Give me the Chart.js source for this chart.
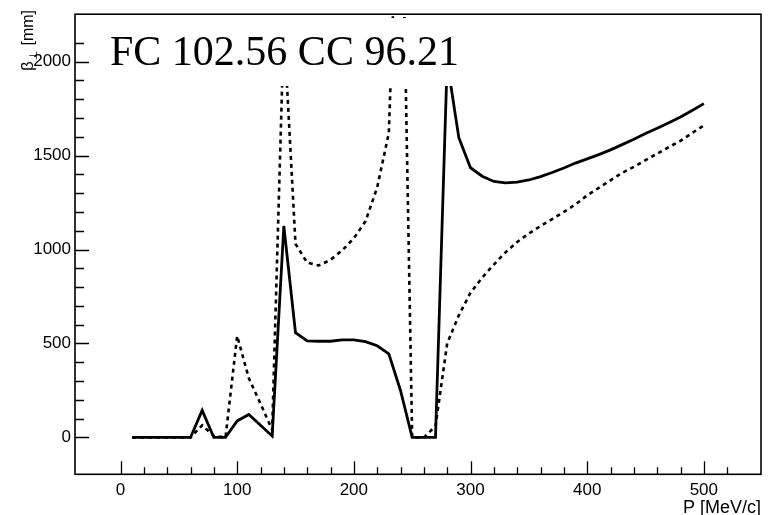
<!DOCTYPE html>
<html>
<head>
<meta charset="utf-8">
<script src="https://cdn.jsdelivr.net/npm/chart.js@4.4.1/dist/chart.umd.min.js"></script>
<style>
  html, body { margin: 0; padding: 0; background: #fff; }
</style>
</head>
<body>
<canvas id="betaChart" width="769" height="515"></canvas>
<script>
  // momentum scan, MeV/c
  const momentum = [10, 20, 30, 40, 50, 60, 70, 80, 90, 100,
    110, 120, 130, 140, 150, 160, 170, 180, 190, 200,
    210, 220, 230, 240, 250, 260, 270, 280, 290, 300,
    310, 320, 330, 340, 350, 360, 370, 380, 390, 400,
    410, 420, 430, 440, 450, 460, 470, 480, 490, 500];

  // beta at the two settings, mm
  const betaSolid = [0, 0, 0, 0, 0, 0, 144, 0, 0, 88,
    122, 65, 8, 1125, 557, 514, 512, 512, 519, 519,
    510, 488, 445, 250, 0, 0, 0, 2000, 1595, 1435,
    1390, 1362, 1355, 1358, 1370, 1388, 1410, 1434, 1460, 1482,
    1505, 1530, 1558, 1587, 1617, 1645, 1675, 1705, 1740, 1776];

  const betaDotted = [0, 0, 0, 0, 0, 0, 65, 8, 0, 540,
    315, 180, 40, 2190, 1030, 930, 915, 945, 995, 1060,
    1150, 1330, 1620, 3420, 0, 0, 60, 500, 650, 770,
    850, 920, 985, 1040, 1085, 1125, 1162, 1200, 1240, 1288,
    1328, 1368, 1408, 1440, 1475, 1510, 1545, 1578, 1620, 1660];

  const xRange = [-39, 549];
  const yRange = [-196, 2252];
  const xStep = 20, xLabelStep = 100;
  const yStep = 100, yLabelStep = 500;

  const boxLabel = "FC 102.56 CC 96.21";
  const xTitle = "P [MeV/c]";

  const isMultiple = (v, m) => Math.abs(v / m - Math.round(v / m)) < 1e-6;

  // ROOT-style frame: inward ticks, frame box, white label pave, axis titles
  const rootFrame = {
    id: "rootFrame",
    afterDatasetsDraw(chart) {
      const { ctx, chartArea: a, scales: { x, y } } = chart;
      ctx.save();

      ctx.fillStyle = "#fff";
      ctx.fillRect(90, 18, 401, 68);
      ctx.fillStyle = "#000";
      ctx.font = '42px "Liberation Serif"';
      ctx.textBaseline = "alphabetic";
      ctx.textAlign = "left";
      ctx.fillText(boxLabel, 110, 65);

      ctx.strokeStyle = "#000";
      ctx.lineWidth = 1.3;
      ctx.beginPath();
      x.ticks.forEach((t) => {
        if (!isMultiple(t.value, xStep)) return;
        const px = Math.round(x.getPixelForValue(t.value)) + 0.5;
        const len = isMultiple(t.value, xLabelStep) ? 13 : 7;
        ctx.moveTo(px, a.bottom);
        ctx.lineTo(px, a.bottom - len);
      });
      y.ticks.forEach((t) => {
        if (!isMultiple(t.value, yStep)) return;
        const py = Math.round(y.getPixelForValue(t.value)) + 0.5;
        const len = isMultiple(t.value, yLabelStep) ? 14 : 9;
        ctx.moveTo(a.left, py);
        ctx.lineTo(a.left + len, py);
      });
      ctx.stroke();

      ctx.lineWidth = 1.6;
      ctx.strokeRect(a.left, a.top, a.right - a.left, a.bottom - a.top);

      ctx.font = '18px "Liberation Sans"';
      ctx.textAlign = "right";
      ctx.fillText(xTitle, a.right, 513);

      // y title, rotated: beta_perp [mm]
      ctx.translate(33, 10);
      ctx.rotate(-Math.PI / 2);
      ctx.font = '16px "Liberation Sans"';
      ctx.fillText("[mm]", 0, 0);
      let u = -ctx.measureText("[mm]").width - 5;
      ctx.font = '11px "DejaVu Sans"';
      ctx.fillText("\u22A5", u, 4);
      u -= ctx.measureText("\u22A5").width + 1;
      ctx.font = '17px "Liberation Sans"';
      ctx.fillText("\u03B2", u, 0);

      ctx.restore();
    },
  };

  const tickFont = { family: "Liberation Sans", size: 17 };

  new Chart(document.getElementById("betaChart"), {
    type: "line",
    data: {
      datasets: [
        {
          label: "solid",
          data: momentum.map((p, i) => ({ x: p, y: betaSolid[i] })),
          borderColor: "#000",
          borderWidth: 2.8,
          pointRadius: 0,
          tension: 0,
          fill: false,
        },
        {
          label: "dotted",
          data: momentum.map((p, i) => ({ x: p, y: betaDotted[i] })),
          borderColor: "#000",
          borderWidth: 2.6,
          borderDash: [4, 4],
          pointRadius: 0,
          tension: 0,
          fill: false,
        },
      ],
    },
    options: {
      responsive: false,
      animation: false,
      layout: { padding: { left: 0, top: 10.7, right: 8, bottom: 0 } },
      plugins: { legend: { display: false }, tooltip: { enabled: false } },
      scales: {
        x: {
          type: "linear",
          min: xRange[0],
          max: xRange[1],
          grid: { display: false, drawTicks: false },
          border: { display: false },
          afterFit: (s) => { s.height = 40.7; },
          ticks: {
            stepSize: xStep,
            autoSkip: false,
            maxRotation: 0,
            padding: 6,
            color: "#000",
            font: tickFont,
            callback: (v) => (isMultiple(v, xLabelStep) ? String(Math.round(v)) : ""),
          },
        },
        y: {
          min: yRange[0],
          max: yRange[1],
          grid: { display: false, drawTicks: false },
          border: { display: false },
          afterFit: (s) => { s.width = 75; },
          ticks: {
            stepSize: yStep,
            autoSkip: false,
            padding: 4,
            color: "#000",
            font: tickFont,
            callback: (v) => (isMultiple(v, yLabelStep) ? String(Math.round(v)) : ""),
          },
        },
      },
    },
    plugins: [rootFrame],
  });
</script>
</body>
</html>
